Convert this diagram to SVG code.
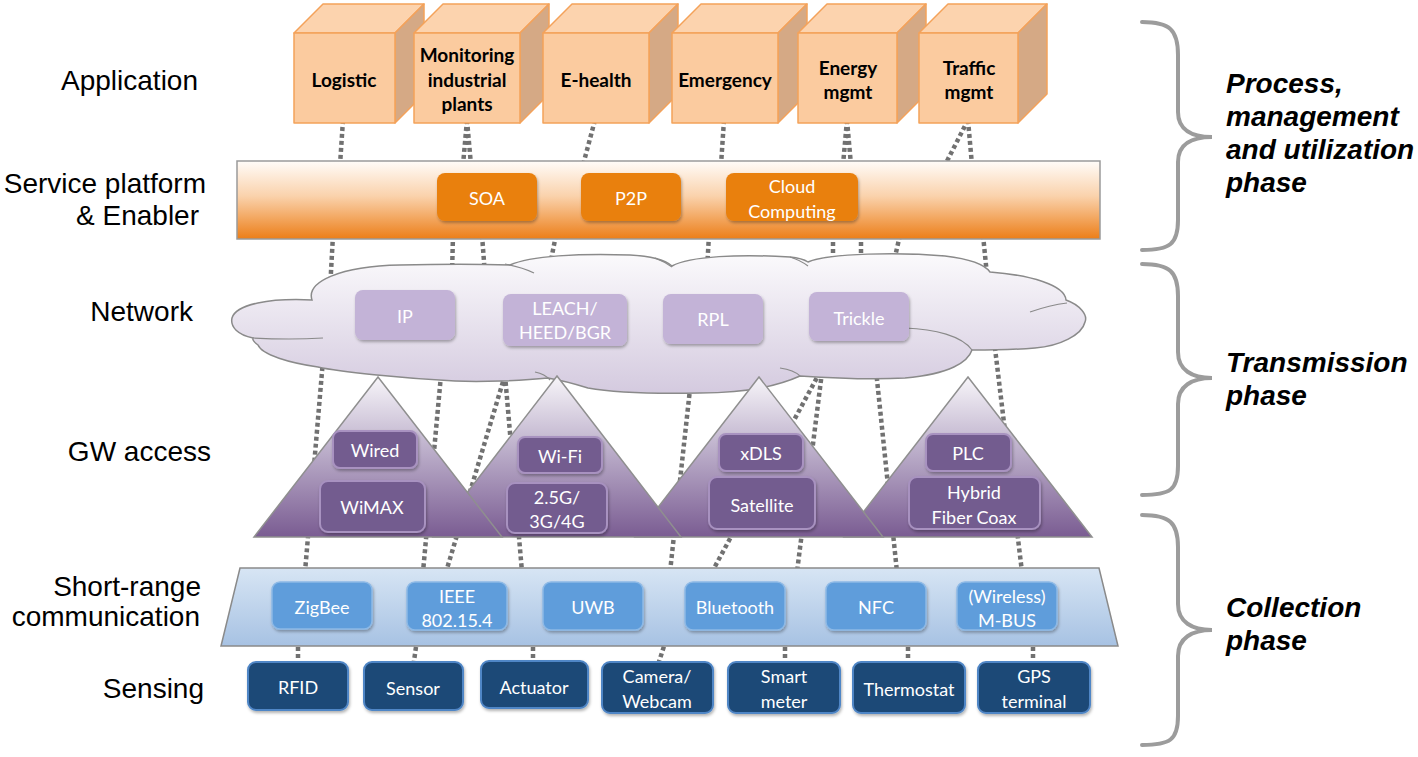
<svg xmlns="http://www.w3.org/2000/svg" width="1418" height="757" viewBox="0 0 1418 757">
<defs>
<linearGradient id="gSvc" x1="0" y1="0" x2="0" y2="1">
<stop offset="0" stop-color="#FFFCF9"/><stop offset="0.45" stop-color="#FAD2AC"/><stop offset="1" stop-color="#EC7E18"/>
</linearGradient>
<linearGradient id="gCloud" x1="0" y1="0" x2="0" y2="1">
<stop offset="0" stop-color="#FBFAFC"/><stop offset="1" stop-color="#D4CADF"/>
</linearGradient>
<linearGradient id="gTri" x1="0" y1="0" x2="0" y2="1">
<stop offset="0" stop-color="#F7F5F9"/><stop offset="0.45" stop-color="#BDB0CB"/><stop offset="1" stop-color="#7A5C92"/>
</linearGradient>
<linearGradient id="gTrap" x1="0" y1="0" x2="0" y2="1">
<stop offset="0" stop-color="#D7E5F4"/><stop offset="1" stop-color="#A7C2E3"/>
</linearGradient>
<filter id="sh" x="-10%" y="-10%" width="120%" height="130%">
<feDropShadow dx="1" dy="2" stdDeviation="1.5" flood-color="#000" flood-opacity="0.3"/>
</filter>
<style>
.lbl{font-family:"Liberation Sans",Arial,sans-serif;font-size:28px;fill:#000;text-anchor:end}
.ph{font-family:"Liberation Sans",Arial,sans-serif;font-size:28px;font-weight:bold;font-style:italic;fill:#000}
.cf{fill:#FBCB9F;stroke:#F4A25A;stroke-width:1.5;stroke-linejoin:round}
.ct{fill:#FCD3AE;stroke:#F4A25A;stroke-width:1.5;stroke-linejoin:round}
.cs{fill:#D5A985;stroke:#F4A25A;stroke-width:1.5;stroke-linejoin:round}
.ctx{font-family:Lato,"Open Sans",sans-serif;font-size:19px;font-weight:bold;fill:#000;text-anchor:middle}
.bx{font-family:Lato,"Open Sans",sans-serif;font-size:18px;fill:#fff;text-anchor:middle}
.svc{fill:#E9800E;filter:url(#sh)}
.net{fill:#C3B3D7;filter:url(#sh)}
.gw{fill:#735B8F;stroke:#A892C0;stroke-width:2;filter:url(#sh)}
.sr{fill:#5E9DDB;stroke:#8DB9E6;stroke-width:1.5;filter:url(#sh)}
.se{fill:#1E4877;stroke:#4F86C6;stroke-width:2;filter:url(#sh)}
.con path{fill:none;stroke:#717171;stroke-width:4.5;stroke-dasharray:4 3}
.brace{fill:none;stroke:#9C9C9C;stroke-width:4;stroke-linecap:round}
.inner{fill:none;stroke:#8A8A8A;stroke-width:1.2}
</style>
</defs>
<rect width="1418" height="757" fill="#fff"/>

<g id="connectors" class="con">
<path d="M343,120 L340,165"/>
<path d="M467,120 L463,165"/>
<path d="M467,120 L471,165"/>
<path d="M595,120 L583,165"/>
<path d="M724,120 L721,165"/>
<path d="M847,120 L843,165"/>
<path d="M847,120 L851,165"/>
<path d="M968,120 L945,165"/>
<path d="M968,120 L972,165"/>
<path d="M333,235 L330,290"/>
<path d="M453,235 L452,275"/>
<path d="M482,235 L485,275"/>
<path d="M556,235 L549,270"/>
<path d="M709,235 L707,270"/>
<path d="M833,235 L833,270"/>
<path d="M861,235 L861,270"/>
<path d="M900,235 L892,270"/>
<path d="M983,235 L988,285"/>
<path d="M323,360 L305,572"/>
<path d="M441,375 L423,572"/>
<path d="M505,375 L446,572"/>
<path d="M505,375 L522,572"/>
<path d="M691,380 L670,572"/>
<path d="M820,372 L712,572"/>
<path d="M822,372 L797,572"/>
<path d="M876,370 L897,572"/>
<path d="M994,340 L1022,572"/>
<path d="M298,640 L298,668"/>
<path d="M417,640 L413,668"/>
<path d="M533,640 L533,668"/>
<path d="M666,640 L657,668"/>
<path d="M785,640 L785,668"/>
<path d="M908,640 L908,668"/>
<path d="M1033,640 L1033,668"/>
</g>

<g id="labels">
<text class="lbl" x="198" y="90">Application</text>
<text class="lbl" x="206" y="193">Service platform</text>
<text class="lbl" x="199" y="225">&amp; Enabler</text>
<text class="lbl" x="193" y="321">Network</text>
<text class="lbl" x="211" y="461">GW access</text>
<text class="lbl" x="201" y="596">Short-range</text>
<text class="lbl" x="200" y="626">communication</text>
<text class="lbl" x="204" y="698">Sensing</text>
</g>

<g id="app-logistic">
<polygon class="ct" points="294,33 323,4 424,4 395,33"/>
<polygon class="cs" points="395,33 424,4 424,94 395,123"/>
<rect class="cf" x="294" y="33" width="101" height="90"/>
<text class="ctx" x="344" y="87">Logistic</text>
</g>
<g id="app-monitoring">
<polygon class="ct" points="414,33 443,4 549,4 520,33"/>
<polygon class="cs" points="520,33 549,4 549,94 520,123"/>
<rect class="cf" x="414" y="33" width="106" height="90"/>
<text class="ctx" x="467" y="62">Monitoring</text>
<text class="ctx" x="467" y="87">industrial</text>
<text class="ctx" x="467" y="111">plants</text>
</g>
<g id="app-ehealth">
<polygon class="ct" points="543,33 572,4 678,4 649,33"/>
<polygon class="cs" points="649,33 678,4 678,94 649,123"/>
<rect class="cf" x="543" y="33" width="106" height="90"/>
<text class="ctx" x="596" y="87">E-health</text>
</g>
<g id="app-emergency">
<polygon class="ct" points="672,33 701,4 807,4 778,33"/>
<polygon class="cs" points="778,33 807,4 807,94 778,123"/>
<rect class="cf" x="672" y="33" width="106" height="90"/>
<text class="ctx" x="725" y="87">Emergency</text>
</g>
<g id="app-energy">
<polygon class="ct" points="798,33 827,4 926,4 897,33"/>
<polygon class="cs" points="897,33 926,4 926,94 897,123"/>
<rect class="cf" x="798" y="33" width="99" height="90"/>
<text class="ctx" x="848" y="75">Energy</text>
<text class="ctx" x="848" y="99">mgmt</text>
</g>
<g id="app-traffic">
<polygon class="ct" points="919,33 948,4 1047,4 1018,33"/>
<polygon class="cs" points="1018,33 1047,4 1047,94 1018,123"/>
<rect class="cf" x="919" y="33" width="99" height="90"/>
<text class="ctx" x="969" y="75">Traffic</text>
<text class="ctx" x="969" y="99">mgmt</text>
</g>

<g id="service-platform">
<rect x="237" y="161" width="863" height="78" fill="url(#gSvc)" stroke="#9A9A9A" stroke-width="1.5"/>
</g>
<g id="svc-soa"><rect class="svc" x="437" y="173" width="100" height="48" rx="8"/><text class="bx" x="487" y="205">SOA</text></g>
<g id="svc-p2p"><rect class="svc" x="581" y="173" width="100" height="48" rx="8"/><text class="bx" x="631" y="205">P2P</text></g>
<g id="svc-cloud"><rect class="svc" x="726" y="173" width="132" height="48" rx="8"/><text class="bx" x="792" y="193">Cloud</text><text class="bx" x="792" y="218">Computing</text></g>

<g id="network-cloud">
<path d="M232,318 C236,304 270,298 312,300 C306,282 340,266 400,265 C440,264 480,264 510,265 C530,256 580,253 630,255 C650,256 665,260 672,266 C690,256 740,254 790,257 C800,258 805,260 808,262 C830,253 900,252 945,256 C970,259 985,265 990,272 C1030,275 1065,285 1066,300 C1080,305 1088,315 1085,322 C1082,335 1060,346 1035,348 C1010,350 985,350 972,350 C968,362 950,374 905,378 C870,380 830,378 800,376 C780,385 750,393 700,393 C650,394 610,392 588,388 C575,384 560,380 548,378 C520,381 480,382 455,381 C400,378 340,372 318,367 C290,363 262,355 258,345 C254,342 252,340 253,338 C238,335 230,327 232,318 Z" fill="url(#gCloud)" stroke="#8A8A8A" stroke-width="1.5"/>
<path class="inner" d="M253,338 Q290,340 323,338"/>
<path class="inner" d="M505,264 Q522,267 534,273"/>
<path class="inner" d="M655,258 Q665,262 672,267"/>
<path class="inner" d="M790,257 Q800,260 808,266"/>
<path class="inner" d="M1030,312 Q1050,305 1067,303"/>
<path class="inner" d="M905,328 C935,329 962,336 972,350"/>
<path class="inner" d="M780,368 Q794,370 800,376"/>
<path class="inner" d="M535,372 Q545,374 550,380"/>
</g>
<g id="net-ip"><rect class="net" x="355" y="290" width="100" height="50" rx="8"/><text class="bx" x="405" y="323">IP</text></g>
<g id="net-leach"><rect class="net" x="503" y="294" width="124" height="52" rx="8"/><text class="bx" x="565" y="315">LEACH/</text><text class="bx" x="565" y="339">HEED/BGR</text></g>
<g id="net-rpl"><rect class="net" x="663" y="294" width="100" height="50" rx="8"/><text class="bx" x="713" y="326">RPL</text></g>
<g id="net-trickle"><rect class="net" x="809" y="292" width="100" height="49" rx="8"/><text class="bx" x="859" y="325">Trickle</text></g>

<g id="gw-tri4"><polygon points="968,377 1092,537 844,537" fill="url(#gTri)" stroke="#8F8F8F" stroke-width="1.5"/></g>
<g id="gw-tri3"><polygon points="759,377 883,537 635,537" fill="url(#gTri)" stroke="#8F8F8F" stroke-width="1.5"/></g>
<g id="gw-tri2"><polygon points="557,376 681,537 433,537" fill="url(#gTri)" stroke="#8F8F8F" stroke-width="1.5"/></g>
<g id="gw-tri1"><polygon points="378,377 502,537 254,537" fill="url(#gTri)" stroke="#8F8F8F" stroke-width="1.5"/></g>

<g id="gw-wired"><rect class="gw" x="333" y="431" width="84" height="37" rx="7"/><text class="bx" x="375" y="457">Wired</text></g>
<g id="gw-wimax"><rect class="gw" x="320" y="481" width="105" height="51" rx="8"/><text class="bx" x="372" y="514">WiMAX</text></g>
<g id="gw-wifi"><rect class="gw" x="518" y="437" width="84" height="36" rx="7"/><text class="bx" x="560" y="463">Wi-Fi</text></g>
<g id="gw-cell"><rect class="gw" x="507" y="483" width="100" height="50" rx="8"/><text class="bx" x="557" y="504">2.5G/</text><text class="bx" x="557" y="528">3G/4G</text></g>
<g id="gw-xdls"><rect class="gw" x="719" y="434" width="84" height="37" rx="7"/><text class="bx" x="761" y="460">xDLS</text></g>
<g id="gw-satellite"><rect class="gw" x="709" y="477" width="106" height="52" rx="8"/><text class="bx" x="762" y="512">Satellite</text></g>
<g id="gw-plc"><rect class="gw" x="926" y="434" width="85" height="37" rx="7"/><text class="bx" x="968" y="460">PLC</text></g>
<g id="gw-hfc"><rect class="gw" x="909" y="477" width="131" height="52" rx="8"/><text class="bx" x="974" y="499">Hybrid</text><text class="bx" x="974" y="524">Fiber Coax</text></g>

<g id="short-range">
<polygon points="240,568 1099,568 1118,646 221,646" fill="url(#gTrap)" stroke="#8A8A8A" stroke-width="1.5"/>
</g>
<g id="sr-zigbee"><rect class="sr" x="272" y="582" width="100" height="47" rx="8"/><text class="bx" x="322" y="614">ZigBee</text></g>
<g id="sr-ieee"><rect class="sr" x="407" y="582" width="100" height="48" rx="8"/><text class="bx" x="457" y="603">IEEE</text><text class="bx" x="457" y="627">802.15.4</text></g>
<g id="sr-uwb"><rect class="sr" x="543" y="582" width="100" height="48" rx="8"/><text class="bx" x="593" y="614">UWB</text></g>
<g id="sr-bluetooth"><rect class="sr" x="685" y="582" width="100" height="48" rx="8"/><text class="bx" x="735" y="614">Bluetooth</text></g>
<g id="sr-nfc"><rect class="sr" x="826" y="582" width="100" height="48" rx="8"/><text class="bx" x="876" y="614">NFC</text></g>
<g id="sr-mbus"><rect class="sr" x="957" y="582" width="100" height="48" rx="8"/><text class="bx" x="1007" y="603">(Wireless)</text><text class="bx" x="1007" y="627">M-BUS</text></g>

<g id="se-rfid"><rect class="se" x="248" y="662" width="100" height="48" rx="8"/><text class="bx" x="298" y="694">RFID</text></g>
<g id="se-sensor"><rect class="se" x="364" y="662" width="99" height="48" rx="8"/><text class="bx" x="413" y="695">Sensor</text></g>
<g id="se-actuator"><rect class="se" x="481" y="661" width="107" height="47" rx="8"/><text class="bx" x="534" y="694">Actuator</text></g>
<g id="se-camera"><rect class="se" x="602" y="662" width="111" height="51" rx="8"/><text class="bx" x="657" y="683">Camera/</text><text class="bx" x="657" y="708">Webcam</text></g>
<g id="se-smartmeter"><rect class="se" x="728" y="662" width="112" height="51" rx="8"/><text class="bx" x="784" y="683">Smart</text><text class="bx" x="784" y="708">meter</text></g>
<g id="se-thermostat"><rect class="se" x="853" y="662" width="112" height="51" rx="8"/><text class="bx" x="909" y="696">Thermostat</text></g>
<g id="se-gps"><rect class="se" x="978" y="662" width="112" height="51" rx="8"/><text class="bx" x="1034" y="683">GPS</text><text class="bx" x="1034" y="708">terminal</text></g>

<g id="phases">
<path class="brace" d="M1142,22 C1170,22 1178,30 1178,55 L1178,112 C1178,130 1192,137 1212,137 C1192,137 1178,144 1178,162 L1178,220 C1178,244 1170,250 1142,250"/>
<path class="brace" d="M1142,264 C1170,264 1178,272 1178,296 L1178,352 C1178,370 1192,378 1212,378 C1192,378 1178,386 1178,404 L1178,466 C1178,490 1170,495 1142,495"/>
<path class="brace" d="M1142,515 C1170,515 1178,523 1178,547 L1178,604 C1178,622 1192,630 1212,630 C1192,630 1178,638 1178,656 L1178,716 C1178,740 1170,745 1142,745"/>
<text class="ph" x="1226" y="93">Process,</text>
<text class="ph" x="1226" y="126">management</text>
<text class="ph" x="1226" y="159">and utilization</text>
<text class="ph" x="1226" y="192">phase</text>
<text class="ph" x="1226" y="372">Transmission</text>
<text class="ph" x="1226" y="405">phase</text>
<text class="ph" x="1226" y="617">Collection</text>
<text class="ph" x="1226" y="650">phase</text>
</g>
</svg>
